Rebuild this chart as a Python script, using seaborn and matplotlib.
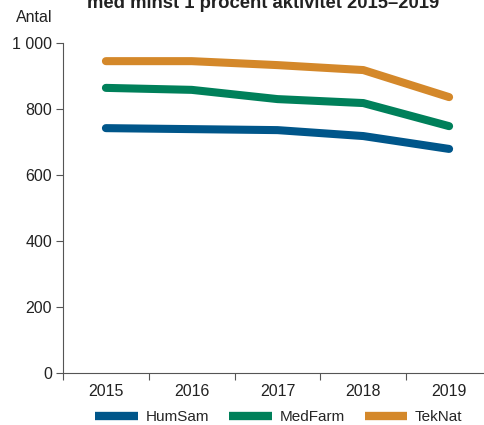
import pandas as pd
import numpy as np
import matplotlib.pyplot as plt
import seaborn as sns
from matplotlib.lines import Line2D

years = ['2015', '2016', '2017', '2018', '2019']
humsam = [742, 739, 736, 718, 679]
medfarm = [864, 858, 830, 818, 748]
teknat = [945, 945, 933, 918, 836]
groups = ['HumSam', 'MedFarm', 'TekNat']
colors = ['#00568a', '#00805a', '#d4882a']

df = pd.DataFrame({
    'year': years * 3,
    'antal': humsam + medfarm + teknat,
    'group': np.repeat(groups, len(years)),
})

sns.set_style('white')
plt.rcParams['font.family'] = ['Liberation Sans', 'DejaVu Sans']

fig = plt.figure(figsize=(4.85, 4.25), dpi=100)
ax = fig.add_axes([63 / 485, 1 - 373 / 425, 429 / 485, 330 / 425])

sns.lineplot(data=df, x='year', y='antal', hue='group', palette=colors,
             linewidth=5.8, legend=False, ax=ax)

ax.set_ylim(0, 1000)
ax.set_xlim(-0.5, 4.5)
ax.set_yticks([0, 200, 400, 600, 800, 1000])
ax.set_yticklabels(['0', '200', '400', '600', '800', '1 000'])
ax.set_xticks(range(5))
ax.set_xticklabels(years)
ax.set_xticks(np.arange(-0.5, 5, 1), minor=True)
ax.tick_params(axis='x', which='major', bottom=True, length=0, pad=8, labelsize=11.5,
               colors='#222222')
ax.tick_params(axis='x', which='minor', bottom=True, length=5, width=0.8, color='#555555',
               direction='out')
ax.tick_params(axis='y', which='major', left=True, length=5, width=0.8, labelsize=11.5,
               labelcolor='#222222', color='#555555', direction='out', pad=3)
ax.set_xlabel('')
ax.set_ylabel('')
for s in ['top', 'right']:
    ax.spines[s].set_visible(False)
for s in ['left', 'bottom']:
    ax.spines[s].set_color('#555555')
    ax.spines[s].set_linewidth(0.8)

fig.text(34 / 485, 1 - 18 / 425, 'Antal', ha='center', va='center', fontsize=11.5, color='#222222')
fig.text(263 / 485, 1 - 4 / 425, 'med minst 1 procent aktivitet 2015\u20132019',
         ha='center', va='center', fontsize=13.3, fontweight='bold', color='#222222')

handles = [Line2D([0], [0], color=c, linewidth=6, solid_capstyle='butt') for c in colors]
fig.legend(handles, groups, loc='center', bbox_to_anchor=(279 / 485, 1 - 417 / 425),
           ncol=3, frameon=False, fontsize=11, handlelength=2.8, handletextpad=0.5,
           columnspacing=1.3)

fig.savefig('out.png', dpi=100)
